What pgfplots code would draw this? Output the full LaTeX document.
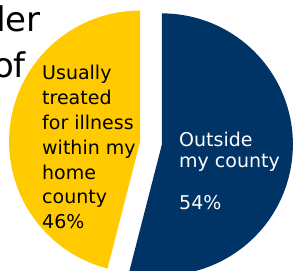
\documentclass[border=0pt]{standalone}
\usepackage{pgfplots}
\pgfplotsset{compat=1.18}
\usepackage{fontspec}
\setmainfont{DejaVu Sans}
\definecolor{pieyellow}{RGB}{255,202,0}
\definecolor{pienavy}{RGB}{0,51,102}
% slice values (percent)
\def\valHome{46}
\def\valOutside{54}
\begin{document}
\begin{tikzpicture}
\useasboundingbox (0,0) rectangle (293pt,271pt);
\begin{axis}[x=1pt, y=1pt, xmin=0, xmax=293, ymin=0, ymax=271,
  hide axis, clip=true]
  % partial title behind the pie
  \node[anchor=base east, font=\fontsize{34}{40}\selectfont, inner sep=0pt] at (axis cs:41,239) {der};
  \node[anchor=base east, font=\fontsize{34}{40}\selectfont, inner sep=0pt] at (axis cs:26,193) {of};
  \pgfmathsetmacro{\angEnd}{90+3.6*\valHome}
  \pgfmathsetmacro{\midH}{90+1.8*\valHome}
  \pgfmathsetmacro{\midO}{\angEnd+1.8*\valOutside}
  % yellow slice (46%)
  \fill[pieyellow] (axis cs:151,128) ++(\midH:11pt) -- ++(90:131pt)
     arc[start angle=90, end angle=\angEnd, radius=131pt] -- cycle;
  % navy slice (54%)
  \fill[pienavy] (axis cs:151,128) ++(\midO:11pt) -- ++(\angEnd:131pt)
     arc[start angle=\angEnd, end angle=450, radius=131pt] -- cycle;
  % labels
  \begin{scope}[every node/.style={anchor=base west, inner sep=0pt, font=\fontsize{19}{24}\selectfont}]
  \node at (axis cs:42,191) {Usually};
  \node at (axis cs:42,166) {treated};
  \node at (axis cs:42,141) {for illness};
  \node at (axis cs:42,116) {within my};
  \node at (axis cs:42,91) {home};
  \node at (axis cs:42,67) {county};
  \node at (axis cs:42,42) {46\%};
  \node[text=white] at (axis cs:179,124) {Outside};
  \node[text=white] at (axis cs:179,103) {my county};
  \node[text=white] at (axis cs:179,61) {54\%};
  \end{scope}
\end{axis}
\end{tikzpicture}
\end{document}
